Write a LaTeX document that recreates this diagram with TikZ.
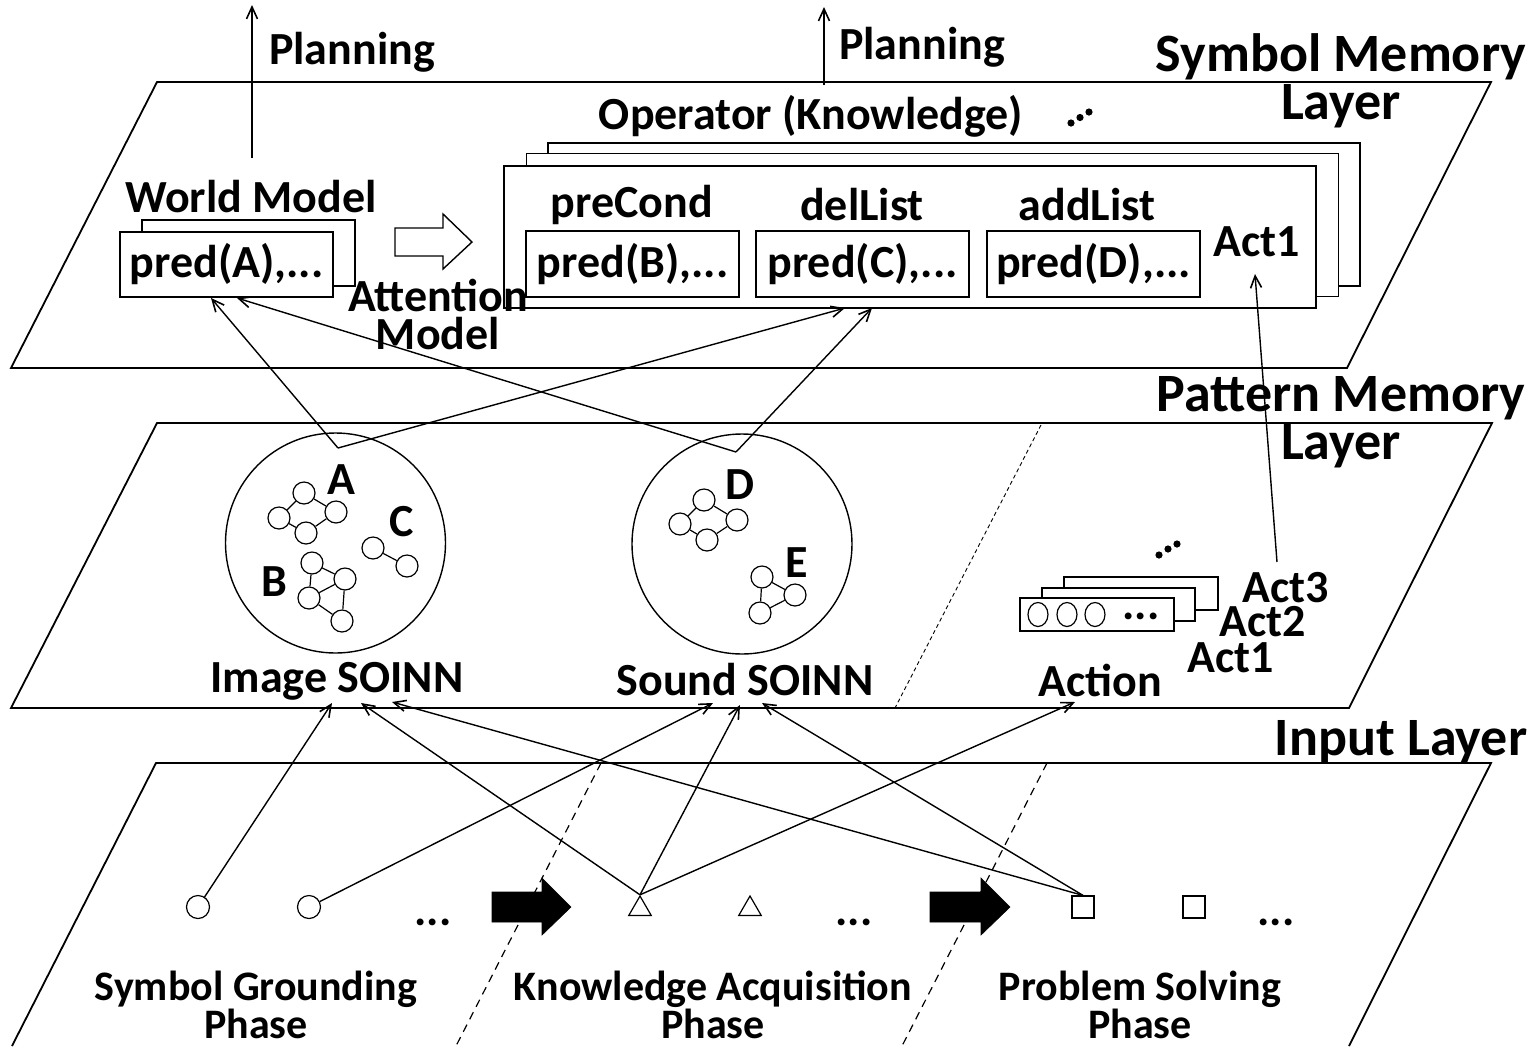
\documentclass[tikz,border=0pt]{standalone}
\usepackage{fontspec}
\setmainfont{Carlito}
\usetikzlibrary{arrows.meta,calc,shapes.geometric}
\begin{document}
\begin{tikzpicture}[x=0.5pt,y=-0.5pt,
  font=\bfseries\fontsize{23}{20}\selectfont,
  layer/.style={line width=0.9pt},
  conn/.style={line width=0.7pt,-{Straight Barb[length=6pt,width=5.5pt,line width=0.8pt]}},
  box/.style={draw,fill=white,line width=0.7pt,inner sep=0pt},
  sn/.style={draw,circle,minimum size=11pt,inner sep=0pt,line width=0.6pt,fill=white},
  big/.style={draw,circle,minimum size=110pt,inner sep=0pt,line width=0.7pt},
  txt/.style={inner sep=0pt},
  ttl/.style={inner sep=0pt,align=center,font=\bfseries\fontsize{27}{24}\selectfont},
  phase/.style={inner sep=0pt,align=center,font=\bfseries\fontsize{21}{19}\selectfont},
  indash/.style={line width=0.6pt,dash pattern=on 4pt off 3pt},
  pdash/.style={line width=0.45pt,dash pattern=on 2pt off 1.5pt},
  blackarrow/.style={fill=black,draw=black,line width=0.3pt},
  dot/.style={fill=black,draw=none}
]
\useasboundingbox (0,0) rectangle (1539,1046);

% ---------------- layers ----------------
\draw[layer] (11,368) -- (157,82) -- (1491,82) -- (1347,368) -- cycle;
\draw[layer] (11,708) -- (157,423) -- (1492,423) -- (1349,708) -- cycle;
\draw[layer] (12,1046) -- (156,763) -- (1491,763) -- (1349,1046);

\node[ttl] (symttl) at (1341,81) {Symbol Memory\\Layer};
\node[ttl] (patttl) at (1341,422) {Pattern Memory\\Layer};
\node[ttl] (inttl) at (1401,742) {Input Layer};

% ---------------- symbol memory layer ----------------
\node[box,minimum width=106.5pt,minimum height=33pt] (wmback) at (248.5,253) {};
\node[box,minimum width=106.5pt,minimum height=32.5pt] (predA) at (226.5,264.5) {pred(A),...};
\node[txt] (wmlabel) at (251,197) {World Model};

\draw[line width=0.7pt,fill=white] (395,228) -- (443,228) -- (443,214) -- (472,242)
  -- (443,269) -- (443,256) -- (395,256) -- cycle;

\node[box,minimum width=406pt,minimum height=71.5pt] (op3) at (954,214.5) {};
\node[box,minimum width=406pt,minimum height=71.5pt] (op2) at (932.5,225) {};
\node[box,minimum width=406pt,minimum height=71pt] (op1) at (910,237) {};
\node[txt] (oplabel) at (811,116) {Operator (Knowledge)};
\fill[dot] (1071,123) circle[radius=1.8pt];
\fill[dot] (1080,117.5) circle[radius=1.8pt];
\fill[dot] (1089,112) circle[radius=1.8pt];

\node[txt,align=center,font=\bfseries\fontsize{23}{19}\selectfont] (attn) at (438,314) {Attention\\Model};

\node[txt] (precond) at (632,205) {preCond};
\node[txt] (dellist) at (862,205) {delList};
\node[txt] (addlist) at (1087,205) {addList};
\node[box,minimum width=106.5pt,minimum height=33pt] (predB) at (632.5,264) {pred(B),...};
\node[box,minimum width=106.5pt,minimum height=33pt] (predC) at (862.5,264) {pred(C),...};
\node[box,minimum width=106.5pt,minimum height=33pt] (predD) at (1093.5,264) {pred(D),...};
\node[txt] (act1sym) at (1257,242) {Act1};

% planning arrows
\coordinate (pl1s) at (252,158);
\coordinate (pl1e) at (252,5);
\coordinate (pl2s) at (824,85);
\coordinate (pl2e) at (824,7);
\draw[conn] (pl1s) -- (pl1e);
\draw[conn] (pl2s) -- (pl2e);
\node[txt] (plan1) at (352,52) {Planning};
\node[txt] (plan2) at (922,47) {Planning};

% ---------------- pattern memory layer ----------------
\draw[pdash] (1041,425) -- (895,708);

\node[big] (img) at (335.5,543) {};
\node[big] (snd) at (742,544) {};

% A cluster
\node[sn] (a1) at (304,493) {};
\node[sn] (a2) at (279,518) {};
\node[sn] (a3) at (336,512) {};
\node[sn] (a4) at (306,533) {};
\draw[line width=0.6pt] (a1) -- (a2) (a1) -- (a3) (a2) -- (a4) (a4) -- (a3);
% C cluster
\node[sn] (c1n) at (373,548) {};
\node[sn] (c2n) at (407,566) {};
\draw[line width=0.6pt] (c1n) -- (c2n);
% B cluster
\node[sn] (b1) at (312,563) {};
\node[sn] (b2) at (345,579) {};
\node[sn] (b3) at (309,598) {};
\node[sn] (b4) at (342,621) {};
\draw[line width=0.6pt] (b1) -- (b2) (b1) -- (b3) (b3) -- (b2) (b2) -- (b4) (b3) -- (b4);
% D cluster
\node[sn] (d1) at (704,500) {};
\node[sn] (d2) at (680,524) {};
\node[sn] (d3) at (737,520) {};
\node[sn] (d4) at (707,540) {};
\draw[line width=0.6pt] (d1) -- (d2) (d1) -- (d3) (d2) -- (d4) (d4) -- (d3);
% E cluster
\node[sn] (e1) at (762,577) {};
\node[sn] (e2) at (795,595) {};
\node[sn] (e3) at (760,613) {};
\draw[line width=0.6pt] (e1) -- (e2) (e1) -- (e3) (e3) -- (e2);

\node[txt] (lA) at (341,480) {A};
\node[txt] (lB) at (274,582) {B};
\node[txt] (lC) at (402,522) {C};
\node[txt] (lD) at (740,485) {D};
\node[txt] (lE) at (797,563) {E};

\node[txt] (imglabel) at (337,681) {Image SOINN};
\node[txt] (sndlabel) at (745,680) {Sound SOINN};
\node[txt] (actlabel) at (1100,680) {Action};

% action stack
\node[box,minimum width=77pt,minimum height=16.5pt] (actb3) at (1141,593.5) {};
\node[box,minimum width=76.5pt,minimum height=16.5pt] (actb2) at (1118.5,604.5) {};
\node[box,minimum width=77pt,minimum height=16.5pt] (actb1) at (1097,614.5) {};
\node[draw,ellipse,minimum width=10pt,minimum height=12pt,inner sep=0pt,line width=0.6pt] (o1) at (1038,614.5) {};
\node[draw,ellipse,minimum width=10pt,minimum height=12pt,inner sep=0pt,line width=0.6pt] (o2) at (1067,614.5) {};
\node[draw,ellipse,minimum width=10pt,minimum height=12pt,inner sep=0pt,line width=0.6pt] (o3) at (1095,614.5) {};
\node[txt] (odots) at (1141,616) {...};
\fill[dot] (1159,555) circle[radius=1.8pt];
\fill[dot] (1168,549) circle[radius=1.8pt];
\fill[dot] (1177,544) circle[radius=1.8pt];
\node[txt] (act3) at (1286,588) {Act3};
\node[txt] (act2) at (1263,622) {Act2};
\node[txt] (act1) at (1231,658) {Act1};

% symbol <- pattern connectors
\coordinate (Aap) at (338,448);
\coordinate (Dap) at (736,452);
\coordinate (wm1) at (211,298);
\coordinate (wm2) at (237,298);
\coordinate (opin1) at (845,308);
\coordinate (opin2) at (872,308);
\coordinate (actsrc) at (1277,562);
\coordinate (acttip) at (1255,274);
\draw[conn] (Aap) -- (wm1);
\draw[conn] (Dap) -- (wm2);
\draw[conn] (Aap) -- (opin1);
\draw[conn] (Dap) -- (opin2);
\draw[conn] (actsrc) -- (acttip);

% ---------------- input layer ----------------
\draw[indash] (601,763) -- (456,1046);
\draw[indash] (1047,763) -- (902,1046);

\node[draw,circle,minimum size=11.5pt,inner sep=0pt,line width=0.6pt] (ci1) at (198,907) {};
\node[draw,circle,minimum size=11.5pt,inner sep=0pt,line width=0.6pt] (ci2) at (309,907) {};
\node[draw,regular polygon,regular polygon sides=3,minimum size=13pt,inner sep=0pt,line width=0.6pt] (t1) at (640,909) {};
\node[draw,regular polygon,regular polygon sides=3,minimum size=13pt,inner sep=0pt,line width=0.6pt] (t2) at (750,909) {};
\node[draw,rectangle,minimum size=11pt,inner sep=0pt,line width=0.6pt] (s1) at (1083,907) {};
\node[draw,rectangle,minimum size=11pt,inner sep=0pt,line width=0.6pt] (s2) at (1194,907) {};
\node[txt] (idots1) at (433,922) {...};
\node[txt] (idots2) at (854,922) {...};
\node[txt] (idots3) at (1276,922) {...};

\draw[blackarrow] (492,892) -- (542,892) -- (542,878) -- (571,907) -- (542,935) -- (542,922) -- (492,922) -- cycle;
\draw[blackarrow] (930,892) -- (981,892) -- (981,878) -- (1010,907) -- (981,935) -- (981,922) -- (930,922) -- cycle;

\node[phase] (ph1) at (256,1005) {Symbol Grounding\\Phase};
\node[phase] (ph2) at (713,1005) {Knowledge Acquisition\\Phase};
\node[phase] (ph3) at (1140,1005) {Problem Solving\\Phase};

\coordinate (img1) at (332,703);
\coordinate (img2) at (361,703);
\coordinate (img3) at (392,702);
\coordinate (snd1) at (713,703);
\coordinate (snd2) at (740,705);
\coordinate (snd3) at (762,703);
\coordinate (actin) at (1075,702);
\draw[conn] (ci1) -- (img1);
\draw[conn] (t1.corner 1) -- (img2);
\draw[conn] (s1.north) -- (img3);
\draw[conn] (ci2) -- (snd1);
\draw[conn] (t1.corner 1) -- (snd2);
\draw[conn] (s1.north) -- (snd3);
\draw[conn] (t1.corner 1) -- (actin);
\end{tikzpicture}
\end{document}
